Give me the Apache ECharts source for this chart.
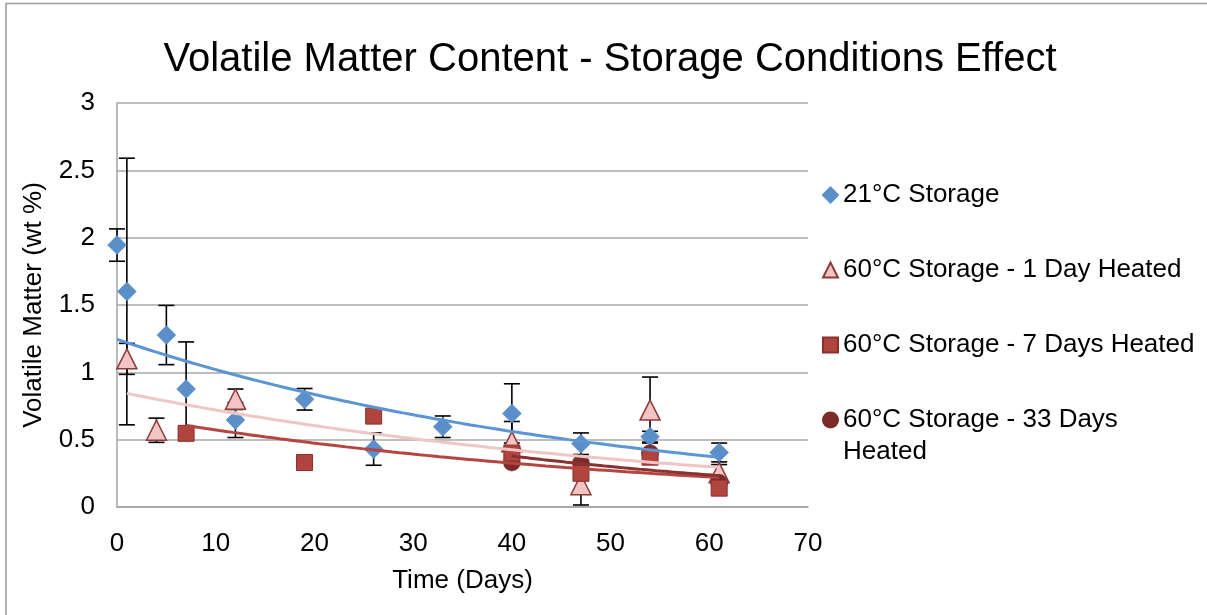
<!DOCTYPE html>
<html>
<head>
<meta charset="utf-8">
<title>Volatile Matter Content - Storage Conditions Effect</title>
<script src="https://cdn.jsdelivr.net/npm/echarts@6/dist/echarts.min.js"></script>
<style>
  html, body { margin: 0; padding: 0; background: #fff; }
  #chart { width: 1207px; height: 615px; }
</style>
</head>
<body>
<div id="chart"></div>
<script>
// Series names
const seriesNames = [
  '21°C Storage',
  '60°C Storage - 1 Day Heated',
  '60°C Storage - 7 Days Heated',
  '60°C Storage - 33 Days Heated'
];

// 21°C storage: day, volatile matter (wt %), error (±)
const days21 = [0, 1, 5, 7, 12, 19, 26, 33, 40, 47, 54, 61];
const vm21   = [1.945, 1.60, 1.277, 0.876, 0.646, 0.80, 0.43, 0.596, 0.695, 0.47, 0.522, 0.405];
const err21  = [0.12, 0.99, 0.22, 0.35, 0.13, 0.08, 0.12, 0.08, 0.22, 0.08, 0.04, 0.07];

// 60°C storage, 1 day heated
const days1 = [1, 4, 12, 40, 47, 54, 61];
const vm1   = [1.10, 0.57, 0.80, 0.485, 0.165, 0.72, 0.255];
const err1  = [0.115, 0.09, 0.076, 0.15, 0.15, 0.245, 0.06];

// 60°C storage, 7 days heated
const days7 = [7, 19, 26, 40, 47, 54, 61];
const vm7   = [0.547, 0.33, 0.675, 0.40, 0.25, 0.37, 0.14];

// 60°C storage, 33 days heated
const days33 = [40, 47, 54, 61];
const vm33   = [0.33, 0.327, 0.40, 0.18];

// Axis ticks
const xTicks = { min: 0, max: 70, interval: 10 };
const yTicks = { min: 0, max: 3, interval: 0.5 };

const FONT = "'Liberation Sans', Arial, Helvetica, sans-serif";

const colors = {
  blue:   { fill: '#5A8FCA', border: '#5A8FCA', trend: '#5B95D3' },
  pink:   { fill: '#F2C4C3', border: '#8E3A37', trend: '#F0C6C5' },
  red:    { fill: '#B0443E', border: '#8B302C', trend: '#B5453F' },
  maroon: { fill: '#7D2B28', border: '#7D2B28', trend: '#8A3230' }
};

function zip(xs, ys, es) {
  return xs.map((x, i) => es ? [x, ys[i], es[i]] : [x, ys[i]]);
}

// Exponential trendline y = a·e^(bx), least squares on ln(y)
function expTrend(xs, ys) {
  const n = xs.length;
  const ly = ys.map(Math.log);
  const mx = xs.reduce((s, v) => s + v, 0) / n;
  const my = ly.reduce((s, v) => s + v, 0) / n;
  let sxx = 0, sxy = 0;
  for (let i = 0; i < n; i++) {
    sxx += (xs[i] - mx) * (xs[i] - mx);
    sxy += (xs[i] - mx) * (ly[i] - my);
  }
  const b = sxy / sxx;
  const a = Math.exp(my - b * mx);
  const x0 = Math.min(...xs), x1 = Math.max(...xs);
  const pts = [];
  const steps = 80;
  for (let k = 0; k <= steps; k++) {
    const x = x0 + (x1 - x0) * k / steps;
    pts.push([x, a * Math.exp(b * x)]);
  }
  return pts;
}

// Vertical error bar with caps
function errorBarRender(params, api) {
  const x = api.value(0), y = api.value(1), e = api.value(2);
  const top = api.coord([x, y + e]);
  const bot = api.coord([x, y - e]);
  const half = 8;
  const st = { stroke: '#000', lineWidth: 1.6 };
  return {
    type: 'group',
    children: [
      { type: 'line', shape: { x1: top[0], y1: top[1], x2: bot[0], y2: bot[1] }, style: st },
      { type: 'line', shape: { x1: top[0] - half, y1: top[1], x2: top[0] + half, y2: top[1] }, style: st },
      { type: 'line', shape: { x1: bot[0] - half, y1: bot[1], x2: bot[0] + half, y2: bot[1] }, style: st }
    ]
  };
}

function trendSeries(xs, ys, color) {
  return {
    type: 'line',
    data: expTrend(xs, ys),
    showSymbol: false,
    symbol: 'none',
    silent: true,
    z: 5,
    lineStyle: { color: color, width: 3 }
  };
}

const chart = echarts.init(document.getElementById('chart'), null, { renderer: 'canvas' });

const legendText = { fontFamily: FONT, fontSize: 26, color: '#000', lineHeight: 32 };

const option = {
  backgroundColor: '#fff',
  animation: false,
  title: {
    text: 'Volatile Matter Content - Storage Conditions Effect',
    left: 610,
    textAlign: 'center',
    top: 40,
    padding: 0,
    textStyle: { fontFamily: FONT, fontSize: 40, fontWeight: 'normal', color: '#000' }
  },
  legend: [
    {
      orient: 'vertical',
      left: 822,
      top: 179,
      padding: 0,
      itemGap: 43,
      itemWidth: 15,
      itemHeight: 15,
      selectedMode: false,
      textStyle: legendText,
      data: [
        { name: seriesNames[0], icon: 'diamond' },
        { name: seriesNames[1], icon: 'triangle' },
        { name: seriesNames[2], icon: 'rect' }
      ]
    },
    {
      // wrapped label: the first line sits level with the marker
      orient: 'vertical',
      left: 822,
      top: 372,
      padding: 0,
      itemWidth: 15,
      itemHeight: 15,
      selectedMode: false,
      formatter: () => ' \n60°C Storage - 33 Days\nHeated',
      textStyle: legendText,
      data: [
        { name: seriesNames[3], icon: 'circle' }
      ]
    }
  ],
  graphic: [
    {
      type: 'rect',
      silent: true,
      z: 100,
      shape: { x: 6, y: 3.5, width: 1220, height: 640 },
      style: { fill: null, stroke: '#9A9A9A', lineWidth: 1.5 }
    }
  ],
  grid: { left: 117, right: 399, top: 103, bottom: 108, containLabel: false },
  xAxis: {
    type: 'value',
    min: xTicks.min,
    max: xTicks.max,
    interval: xTicks.interval,
    name: 'Time (Days)',
    nameLocation: 'middle',
    nameGap: 61,
    nameTextStyle: { fontFamily: FONT, fontSize: 26, color: '#000' },
    axisLine: { show: true, lineStyle: { color: '#A3A3A3', width: 1.5 } },
    axisTick: { show: false },
    axisLabel: { fontFamily: FONT, fontSize: 26, color: '#000', margin: 24 },
    splitLine: { show: false }
  },
  yAxis: {
    type: 'value',
    min: yTicks.min,
    max: yTicks.max,
    interval: yTicks.interval,
    name: 'Volatile Matter (wt %)',
    nameLocation: 'middle',
    nameGap: 70,
    nameTextStyle: { fontFamily: FONT, fontSize: 26, color: '#000' },
    axisLine: { show: true, lineStyle: { color: '#A3A3A3', width: 1.5 } },
    axisTick: { show: false },
    axisLabel: { fontFamily: FONT, fontSize: 26, color: '#000', margin: 22 },
    splitLine: { show: true, lineStyle: { color: '#A8A8A8', width: 1.5 } }
  },
  series: [
    // error bars (drawn beneath the markers)
    {
      type: 'custom',
      renderItem: errorBarRender,
      data: zip(days21, vm21, err21),
      encode: { x: 0, y: 1 },
      silent: true,
      z: 1
    },
    {
      type: 'custom',
      renderItem: errorBarRender,
      data: zip(days1, vm1, err1),
      encode: { x: 0, y: 1 },
      silent: true,
      z: 1
    },
    // markers
    {
      name: seriesNames[0],
      type: 'scatter',
      symbol: 'diamond',
      symbolSize: 19,
      z: 2,
      itemStyle: { color: colors.blue.fill, borderColor: colors.blue.border, borderWidth: 0.5, opacity: 1 },
      data: zip(days21, vm21)
    },
    {
      name: seriesNames[1],
      type: 'scatter',
      symbol: 'triangle',
      symbolSize: 20,
      z: 2,
      itemStyle: { color: colors.pink.fill, borderColor: colors.pink.border, borderWidth: 1.5, opacity: 1 },
      data: zip(days1, vm1)
    },
    {
      name: seriesNames[3],
      type: 'scatter',
      symbol: 'circle',
      symbolSize: 17,
      z: 2,
      itemStyle: { color: colors.maroon.fill, borderColor: colors.maroon.border, borderWidth: 0.5, opacity: 1 },
      data: zip(days33, vm33)
    },
    {
      name: seriesNames[2],
      type: 'scatter',
      symbol: 'rect',
      symbolSize: 16,
      z: 2,
      itemStyle: { color: colors.red.fill, borderColor: colors.red.border, borderWidth: 1, opacity: 1 },
      data: zip(days7, vm7)
    },
    // exponential trendlines
    trendSeries(days21, vm21, colors.blue.trend),
    trendSeries(days1, vm1, colors.pink.trend),
    trendSeries(days7, vm7, colors.red.trend),
    trendSeries(days33, vm33, colors.maroon.trend)
  ]
};

chart.setOption(option);
</script>
</body>
</html>
